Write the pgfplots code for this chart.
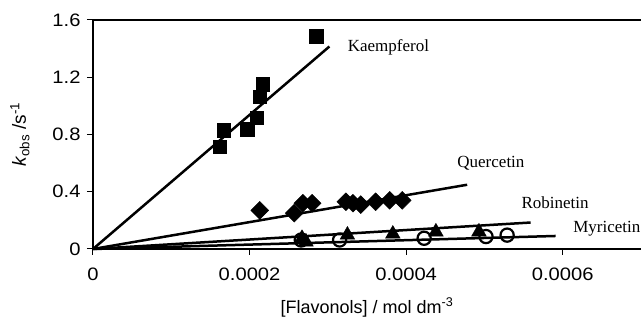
\documentclass[border=0pt]{standalone}
\usepackage{fontspec}
\setmainfont{Liberation Sans}
\newfontfamily\timesf{Liberation Serif}
\newfontfamily\tickf[FakeStretch=1.12]{Liberation Sans}
\usepackage{pgfplots}
\pgfplotsset{compat=1.18}
\begin{document}
\begin{tikzpicture}
\path[use as bounding box] (-93pt,-80pt) rectangle (548pt,249pt);
\begin{axis}[
  scale only axis, width=548pt, height=229pt,
  xmin=0, xmax=0.0007, ymin=0, ymax=1.6,
  axis x line=box, axis y line=left,
  axis line style={line width=1.3pt, -},
  xtick={0,0.0002,0.0004,0.0006}, xticklabels={0,0.0002,0.0004,0.0006},
  ytick={0,0.4,0.8,1.2,1.6}, yticklabels={0,0.4,0.8,1.2,1.6},
  xtick pos=bottom, ytick pos=left,
  tick align=outside, major tick length=6pt,
  tick style={line width=1pt, black},
  scaled ticks=false,
  /pgf/number format/assume math mode=true,
  ticklabel style={font=\tickf\fontsize{18}{20}\selectfont},
  xticklabel style={yshift=-9pt},
  yticklabel style={xshift=-3pt},
  xlabel={[Flavonols] / mol dm\textsuperscript{-3}},
  ylabel={\textit{k}\textsubscript{obs} /s\textsuperscript{-1}},
  label style={font=\fontsize{18}{20}\selectfont},
  xlabel style={yshift=-11pt},
  ylabel style={yshift=16pt, font=\fontsize{19}{21}\selectfont},
  clip=false,
]
% fit lines
\addplot[black, line width=2.5pt] coordinates {(0,0) (0.000302,1.415)};
\addplot[black, line width=2.5pt] coordinates {(0,0) (0.000478,0.449)};
\addplot[black, line width=2.5pt] coordinates {(0,0) (0.000559,0.185)};
\addplot[black, line width=2.5pt] coordinates {(0,0) (0.000591,0.091)};
% Kaempferol
\addplot[only marks, mark=square*, mark size=6.8pt, black] coordinates {
(0.000162,0.714) (0.000167,0.828) (0.000197,0.835) (0.000209,0.917)
(0.000213,1.065) (0.000217,1.151) (0.000285,1.486)};
% Quercetin
\addplot[only marks, mark=square*, mark size=6.3pt, mark options={rotate=45}, black] coordinates {
(0.000213,0.27) (0.000257,0.25) (0.000268,0.32) (0.000280,0.32)
(0.000323,0.33) (0.000332,0.32) (0.000342,0.31) (0.000361,0.33)
(0.000379,0.34) (0.000395,0.34)};
% Robinetin
\addplot[only marks, mark=triangle*, mark size=8.5pt, black] coordinates {
(0.000267,0.075) (0.000272,0.05) (0.000325,0.098) (0.000383,0.105)
(0.000438,0.12) (0.000493,0.12)};
% Myricetin
\addplot[only marks, mark=o, mark size=6.6pt, black, line width=2.2pt, mark options={fill=white}] coordinates {
(0.000266,0.063) (0.000315,0.063) (0.000423,0.075) (0.000502,0.087) (0.000529,0.097)};
\node[anchor=west, font=\timesf\fontsize{17}{19}\selectfont] at (axis cs:0.000321,1.410) {Kaempferol};
\node[anchor=west, font=\timesf\fontsize{17}{19}\selectfont] at (axis cs:0.000461,0.600) {Quercetin};
\node[anchor=west, font=\timesf\fontsize{17}{19}\selectfont] at (axis cs:0.000543,0.326) {Robinetin};
\node[anchor=west, font=\timesf\fontsize{17}{19}\selectfont] at (axis cs:0.000609,0.143) {Myricetin};
\end{axis}
\end{tikzpicture}
\end{document}
